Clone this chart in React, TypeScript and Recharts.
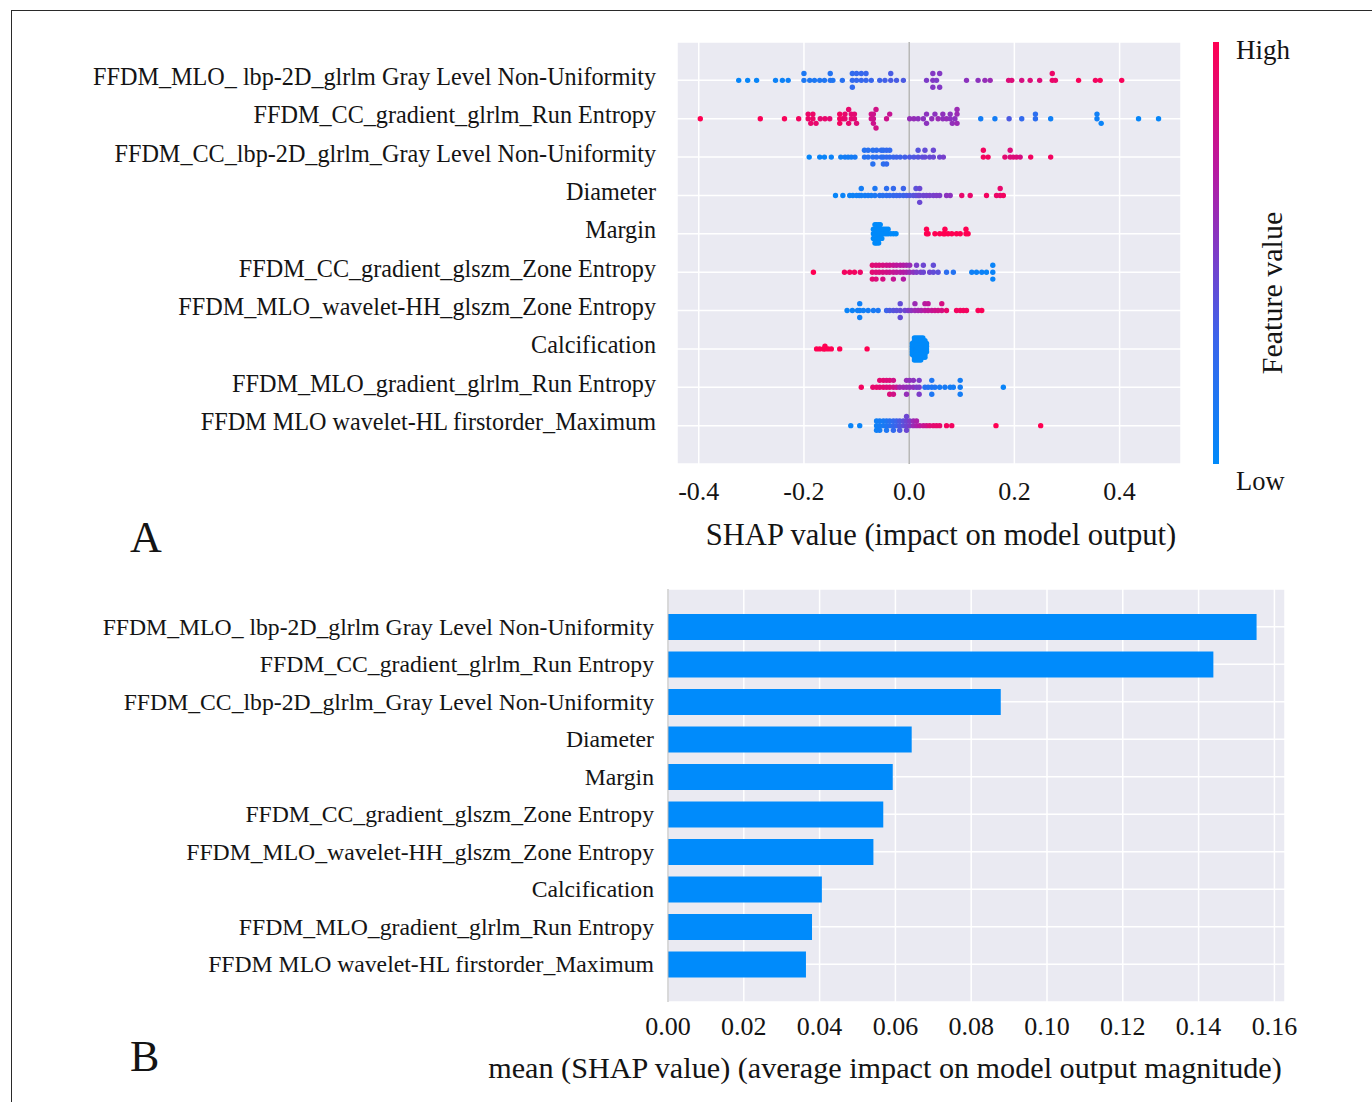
import React from 'react';
import { ScatterChart, Scatter, XAxis, YAxis, CartesianGrid, ReferenceLine, BarChart, Bar } from 'recharts';

const FONT = '"Liberation Serif", "Times New Roman", Times, serif';
const INK = '#141414';

const features = [
  'FFDM_MLO_ lbp-2D_glrlm Gray Level Non-Uniformity',
  'FFDM_CC_gradient_glrlm_Run Entropy',
  'FFDM_CC_lbp-2D_glrlm_Gray Level Non-Uniformity',
  'Diameter',
  'Margin',
  'FFDM_CC_gradient_glszm_Zone Entropy',
  'FFDM_MLO_wavelet-HH_glszm_Zone Entropy',
  'Calcification',
  'FFDM_MLO_gradient_glrlm_Run Entropy',
  'FFDM MLO wavelet-HL firstorder_Maximum',
];

const meanAbsShap = [0.1553, 0.1439, 0.0878, 0.0643, 0.0593, 0.0568, 0.0542, 0.0406, 0.038, 0.0364];
const shapTicks = [-0.4, -0.2, 0, 0.2, 0.4];
const barTicks = [0, 0.02, 0.04, 0.06, 0.08, 0.1, 0.12, 0.14, 0.16];

// [shap value, normalised feature value, number of samples at this value]
type P = [number, number, number?];

const mloLbpGlnu: P[] = [
  [-0.324, 0.03], [-0.307, 0.03], [-0.29, 0.04], [-0.254, 0.06], [-0.241, 0.06], [-0.23, 0.07],
  [-0.2, 0.14, 2], [-0.189, 0.14], [-0.18, 0.14], [-0.17, 0.15], [-0.161, 0.16], [-0.15, 0.18, 2], [-0.145, 0.16], [-0.127, 0.2],
  [-0.108, 0.25, 3], [-0.1, 0.27, 2], [-0.091, 0.27, 2], [-0.082, 0.28, 2], [-0.072, 0.28],
  [-0.056, 0.3], [-0.046, 0.32], [-0.035, 0.34, 2], [-0.024, 0.34], [-0.011, 0.35],
  [0.033, 0.5], [0.045, 0.52, 3], [0.052, 0.5], [0.058, 0.52, 2],
  [0.109, 0.55], [0.131, 0.55], [0.144, 0.58], [0.154, 0.6],
  [0.189, 0.85], [0.195, 0.85], [0.214, 0.82], [0.23, 0.85], [0.248, 0.85],
  [0.272, 0.92, 2], [0.278, 0.9], [0.322, 0.97], [0.354, 0.95], [0.363, 0.97], [0.404, 0.97],
];

const ccGradRunEntropy: P[] = [
  [-0.397, 1.0], [-0.283, 0.98], [-0.237, 0.97], [-0.21, 0.95],
  [-0.192, 0.92, 2], [-0.187, 0.9], [-0.183, 0.92, 2], [-0.177, 0.9], [-0.169, 0.88], [-0.16, 0.9], [-0.151, 0.88],
  [-0.132, 0.95, 3], [-0.126, 0.92], [-0.122, 0.9, 2], [-0.115, 0.9, 2], [-0.11, 0.88, 2], [-0.104, 0.88, 2], [-0.1, 0.86],
  [-0.072, 0.8, 2], [-0.068, 0.78, 3], [-0.063, 0.8, 2], [-0.043, 0.78], [-0.037, 0.75],
  [0.001, 0.58], [0.009, 0.58], [0.017, 0.56], [0.027, 0.55], [0.033, 0.55, 2], [0.043, 0.57], [0.049, 0.55], [0.055, 0.6],
  [0.064, 0.56, 2], [0.071, 0.58], [0.078, 0.55, 2], [0.082, 0.57], [0.087, 0.55], [0.091, 0.6, 3],
  [0.136, 0.1], [0.163, 0.1], [0.19, 0.35], [0.214, 0.25], [0.24, 0.22, 2], [0.269, 0.08],
  [0.357, 0.08, 2], [0.365, 0.05], [0.436, 0.03], [0.474, 0.03],
];

const ccLbpGlnu: P[] = [
  [-0.19, 0.03], [-0.17, 0.05], [-0.161, 0.05], [-0.148, 0.06],
  [-0.13, 0.08], [-0.122, 0.1], [-0.116, 0.1], [-0.11, 0.1], [-0.103, 0.12],
  [-0.085, 0.18, 2], [-0.078, 0.2, 2], [-0.069, 0.2, 3], [-0.062, 0.22, 2], [-0.053, 0.24, 2], [-0.049, 0.22, 3],
  [-0.043, 0.25, 3], [-0.037, 0.25, 2], [-0.03, 0.28],
  [-0.024, 0.3], [-0.017, 0.3], [-0.008, 0.32], [0.001, 0.35], [0.009, 0.36], [0.017, 0.38, 2], [0.025, 0.4],
  [0.03, 0.42, 2], [0.039, 0.42], [0.046, 0.44, 2], [0.058, 0.45], [0.065, 0.48],
  [0.141, 0.95, 2], [0.15, 0.95], [0.182, 0.88], [0.192, 0.85, 2], [0.198, 0.85], [0.204, 0.85], [0.211, 0.82],
  [0.231, 0.95], [0.269, 0.95],
];

const diameter: P[] = [
  [-0.14, 0.04], [-0.126, 0.05], [-0.113, 0.06], [-0.107, 0.06],
  [-0.1, 0.08], [-0.095, 0.08], [-0.091, 0.1, 2], [-0.084, 0.1], [-0.078, 0.12], [-0.072, 0.12], [-0.065, 0.14, 2],
  [-0.056, 0.18], [-0.05, 0.2], [-0.043, 0.22, 2], [-0.037, 0.24], [-0.03, 0.26, 2], [-0.024, 0.28], [-0.018, 0.3],
  [-0.011, 0.3, 2], [-0.005, 0.32],
  [0.001, 0.36], [0.008, 0.38], [0.013, 0.4, 2], [0.017, 0.42], [0.02, 0.44, 3], [0.027, 0.45], [0.033, 0.46],
  [0.039, 0.48], [0.046, 0.48], [0.052, 0.5], [0.058, 0.5], [0.071, 0.55], [0.078, 0.55],
  [0.1, 0.9], [0.116, 0.9], [0.147, 0.95], [0.166, 0.92], [0.173, 0.9, 2], [0.179, 0.95],
];

const margin: P[] = [
  [-0.068, 0, 3], [-0.065, 0, 5], [-0.062, 0, 5], [-0.058, 0, 5], [-0.055, 0, 4], [-0.052, 0, 3],
  [-0.048, 0, 2], [-0.044, 0, 2], [-0.04, 0, 2], [-0.035, 0], [-0.03, 0], [-0.025, 0],
  [0.033, 1, 2], [0.036, 1], [0.049, 1], [0.058, 1], [0.065, 1], [0.068, 1, 2], [0.074, 1], [0.081, 1],
  [0.09, 1], [0.097, 1], [0.108, 1, 2], [0.112, 1],
];

const ccGradZoneEntropy: P[] = [
  [-0.182, 1], [-0.123, 0.95], [-0.113, 0.95], [-0.104, 0.95], [-0.093, 0.92],
  [-0.07, 0.88, 3], [-0.063, 0.85, 3], [-0.057, 0.85, 2], [-0.05, 0.82, 3], [-0.043, 0.8, 2], [-0.037, 0.78, 2],
  [-0.03, 0.75, 3], [-0.024, 0.72, 2], [-0.017, 0.7, 2], [-0.011, 0.68, 3], [-0.005, 0.65, 2], [0.001, 0.6, 2],
  [0.008, 0.55], [0.014, 0.5, 2], [0.022, 0.48], [0.027, 0.45, 2], [0.039, 0.45], [0.046, 0.42, 2], [0.055, 0.4],
  [0.071, 0.22], [0.084, 0.18],
  [0.119, 0.08], [0.128, 0.06], [0.138, 0.06], [0.147, 0.05], [0.159, 0.05, 3],
];

const mloHhZoneEntropy: P[] = [
  [-0.118, 0.05], [-0.108, 0.06], [-0.098, 0.07], [-0.094, 0.08, 3], [-0.087, 0.08], [-0.078, 0.1], [-0.068, 0.12], [-0.059, 0.14],
  [-0.043, 0.3], [-0.037, 0.35], [-0.03, 0.38], [-0.024, 0.4], [-0.017, 0.42, 3], [-0.008, 0.45], [-0.002, 0.5],
  [0.004, 0.55], [0.011, 0.6, 2], [0.017, 0.62], [0.023, 0.65], [0.03, 0.7, 2], [0.036, 0.72, 2], [0.043, 0.75],
  [0.049, 0.78], [0.055, 0.8], [0.062, 0.82, 2],
  [0.071, 0.9], [0.09, 0.95], [0.097, 0.95], [0.103, 0.95], [0.109, 0.95], [0.131, 0.98], [0.138, 0.98],
];

const calcification: P[] = [
  [-0.176, 1], [-0.17, 1], [-0.163, 1], [-0.16, 1, 2], [-0.154, 1], [-0.148, 1], [-0.132, 1], [-0.08, 1],
  [0.006, 0, 5], [0.01, 0, 9], [0.014, 0, 9], [0.018, 0, 9], [0.022, 0, 9], [0.026, 0, 8], [0.03, 0, 7], [0.033, 0, 4],
];

const mloGradRunEntropy: P[] = [
  [-0.091, 0.95],
  [-0.069, 0.9], [-0.062, 0.9], [-0.056, 0.88, 2], [-0.049, 0.88, 2], [-0.043, 0.85, 2], [-0.037, 0.85, 3],
  [-0.03, 0.8, 3], [-0.024, 0.75],
  [-0.018, 0.62], [-0.011, 0.6], [-0.005, 0.58, 3], [0.001, 0.56, 2], [0.008, 0.55, 2], [0.014, 0.5], [0.019, 0.5, 3],
  [0.03, 0.2], [0.036, 0.18], [0.043, 0.15, 3], [0.049, 0.15], [0.058, 0.12], [0.068, 0.12], [0.078, 0.1],
  [0.084, 0.1], [0.097, 0.1, 3],
  [0.179, 0.05],
];

const hlFirstorderMax: P[] = [
  [-0.111, 0.05], [-0.094, 0.05],
  [-0.062, 0.08, 3], [-0.056, 0.1, 3], [-0.049, 0.12, 2], [-0.043, 0.15, 3], [-0.037, 0.2, 2], [-0.03, 0.25, 3],
  [-0.024, 0.3, 2], [-0.018, 0.35, 3], [-0.011, 0.4, 2], [-0.005, 0.45, 4], [0.001, 0.5, 2], [0.008, 0.6, 2],
  [0.014, 0.65, 2], [0.02, 0.7], [0.027, 0.75], [0.033, 0.8], [0.039, 0.85], [0.046, 0.88], [0.052, 0.9], [0.058, 0.9],
  [0.071, 0.95], [0.081, 0.95],
  [0.165, 1], [0.25, 1],
];

const rowsData: P[][] = [
  mloLbpGlnu, ccGradRunEntropy, ccLbpGlnu, diameter, margin,
  ccGradZoneEntropy, mloHhZoneEntropy, calcification, mloGradRunEntropy, hlFirstorderMax,
];

// SHAP-style red/blue colour map
const cmapStops: [number, number[]][] = [
  [0, [0, 138, 250]],
  [0.3, [60, 100, 235]],
  [0.5, [125, 60, 200]],
  [0.7, [185, 25, 160]],
  [1, [255, 0, 82]],
];
function colorOf(f: number): string {
  for (let i = 1; i < cmapStops.length; i++) {
    const [p1, c1] = cmapStops[i];
    const [p0, c0] = cmapStops[i - 1];
    if (f <= p1) {
      const t = (f - p0) / (p1 - p0);
      const c = c0.map((v, k) => Math.round(v + (c1[k] - v) * t));
      return `rgb(${c[0]},${c[1]},${c[2]})`;
    }
  }
  return 'rgb(255,0,82)';
}

// beeswarm layout as in shap.summary_plot
function beeswarm(points: P[], row: number) {
  const exp: { x: number; f: number }[] = [];
  points.forEach(([x, f, n]) => {
    for (let i = 0; i < (n ?? 1); i++) exp.push({ x, f });
  });
  const xs = exp.map((p) => p.x);
  const mn = Math.min(...xs);
  const mx = Math.max(...xs);
  const quant = xs.map((v) => Math.round((100 * (v - mn)) / (mx - mn + 1e-8)));
  const idx = exp.map((_, i) => i).sort((a, b) => quant[a] - quant[b] || a - b);
  const ys = new Array(exp.length).fill(0);
  let layer = 0;
  let last = -1;
  for (const i of idx) {
    if (quant[i] !== last) layer = 0;
    ys[i] = Math.ceil(layer / 2) * ((layer % 2) * 2 - 1);
    layer++;
    last = quant[i];
  }
  const maxY = Math.max(...ys.map((y) => y + 1));
  const scale = (0.9 * 0.4) / maxY;
  return exp.map((p, i) => ({ shap: p.x, pos: row - ys[i] * scale, f: p.f }));
}

const scatterPoints = rowsData.flatMap((pts, r) => beeswarm(pts, r));
const barData = features.map((name, i) => ({ name, value: meanAbsShap[i] }));
const rowTicks = features.map((_, i) => i);

const FeatureTickA = (props: any) => {
  const { x, y, payload } = props;
  return (
    <text x={x} y={y - 4} textAnchor="end" dominantBaseline="central" fontSize={24.2} fontFamily={FONT} fill={INK}>
      {features[payload.value]}
    </text>
  );
};

const FeatureTickB = (props: any) => {
  const { x, y, payload } = props;
  return (
    <text x={x} y={y} textAnchor="end" dominantBaseline="central" fontSize={23.7} fontFamily={FONT} fill={INK}>
      {payload.value}
    </text>
  );
};

const Dot = (props: any) => {
  const { cx, cy, payload } = props;
  if (cx == null || cy == null) return null;
  return <circle cx={cx} cy={cy} r={2.7} fill={colorOf(payload.f)} />;
};

export default function App() {
  return (
    <div style={{ position: 'absolute', left: 0, top: 0, width: 1372, height: 1102, background: '#fff', overflow: 'hidden' }}>
      <div style={{ position: 'absolute', left: 11, top: 10, width: 1372, height: 1110, borderTop: '1.5px solid #2a2a2a', borderLeft: '1.5px solid #2a2a2a' }} />
      <div style={{ position: 'absolute', left: 0, top: 0 }}>
        <ScatterChart width={1372} height={560} margin={{ top: 42, right: 191, bottom: 66, left: 0 }}>
          <CartesianGrid fill="#EAEAF2" stroke="#ffffff" strokeWidth={1.5} />
          <XAxis
            type="number"
            dataKey="shap"
            domain={[-0.4413, 0.5167]}
            ticks={shapTicks}
            allowDataOverflow
            interval={0}
            height={30}
            tickFormatter={(v: number) => v.toFixed(1)}
            axisLine={false}
            tickLine={false}
            tickSize={0}
            tickMargin={18}
            tick={{ fontSize: 26, fill: INK, fontFamily: FONT }}
          />
          <YAxis
            type="number"
            dataKey="pos"
            domain={[-1, 10]}
            reversed
            ticks={rowTicks}
            interval={0}
            allowDataOverflow
            width={677}
            axisLine={false}
            tickLine={false}
            tickSize={0}
            tickMargin={21}
            tick={<FeatureTickA />}
          />
          <ReferenceLine x={0} stroke="#a3a3a3" strokeWidth={1.2} />
          <Scatter data={scatterPoints} isAnimationActive={false} shape={<Dot />} />
        </ScatterChart>
      </div>
      <div style={{ position: 'absolute', left: 0, top: 560 }}>
        <BarChart width={1372} height={542} layout="vertical" data={barData} margin={{ top: 29, right: 87, bottom: 70, left: 0 }}>
          <CartesianGrid fill="#EAEAF2" stroke="#ffffff" strokeWidth={1.5} />
          <XAxis
            type="number"
            dataKey="value"
            domain={[0, 0.1628]}
            ticks={barTicks}
            allowDataOverflow
            interval={0}
            height={30}
            tickFormatter={(v: number) => v.toFixed(2)}
            axisLine={false}
            tickLine={false}
            tickSize={0}
            tickMargin={15}
            tick={{ fontSize: 26, fill: INK, fontFamily: FONT }}
          />
          <YAxis
            type="category"
            dataKey="name"
            width={668}
            padding={{ top: 19, bottom: 19 }}
            interval={0}
            axisLine={{ stroke: '#b5b5b5', strokeWidth: 1 }}
            tickLine={false}
            tickSize={0}
            tickMargin={14}
            tick={<FeatureTickB />}
          />
          <Bar dataKey="value" fill="#008bfb" barSize={26} isAnimationActive={false} />
        </BarChart>
      </div>
      <svg width={1372} height={1102} style={{ position: 'absolute', left: 0, top: 0, pointerEvents: 'none' }}>
        <defs>
          <linearGradient id="cbar" x1="0" y1="1" x2="0" y2="0">
            {cmapStops.map(([p, c]) => (
              <stop key={p} offset={p} stopColor={`rgb(${c[0]},${c[1]},${c[2]})`} />
            ))}
          </linearGradient>
        </defs>
        <rect x={1213} y={42} width={6} height={422} fill="url(#cbar)" />
        <text x={1236} y={59} fontSize={27} fontFamily={FONT} fill={INK}>High</text>
        <text x={1236} y={490} fontSize={26.5} fontFamily={FONT} fill={INK}>Low</text>
        <text x={1282} y={293} fontSize={30} fontFamily={FONT} fill={INK} textAnchor="middle" transform="rotate(-90 1282 293)">Feature value</text>
        <text x={941} y={545} fontSize={30.6} fontFamily={FONT} fill={INK} textAnchor="middle">SHAP value (impact on model output)</text>
        <text x={885} y={1078} fontSize={30.2} fontFamily={FONT} fill={INK} textAnchor="middle">mean (SHAP value) (average impact on model output magnitude)</text>
        <text x={130} y={552} fontSize={44} fontFamily={FONT} fill={INK}>A</text>
        <text x={130} y={1071} fontSize={44} fontFamily={FONT} fill={INK}>B</text>
      </svg>
    </div>
  );
}
